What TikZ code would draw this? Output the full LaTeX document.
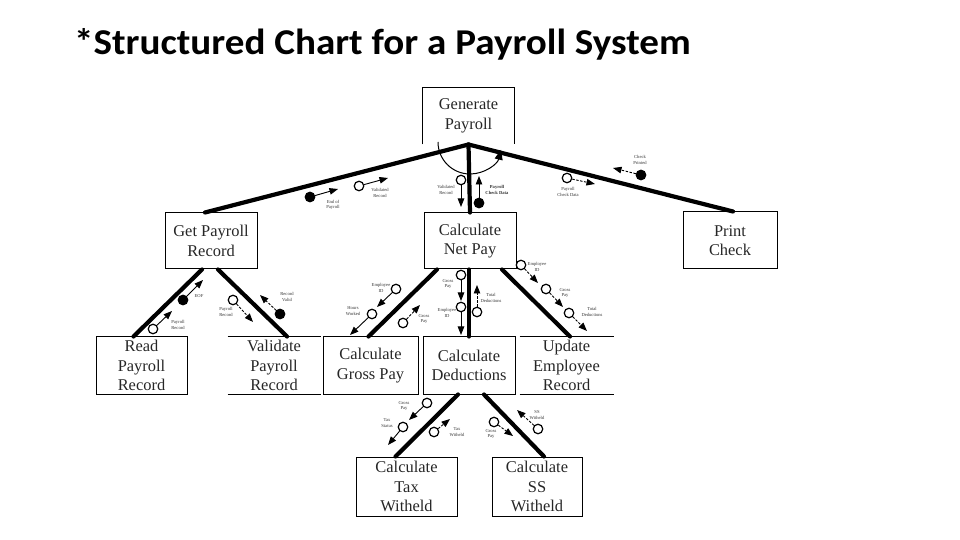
\documentclass[tikz,border=0pt]{standalone}
\usepackage{fontspec}
\setmainfont{Liberation Serif}
\newfontfamily\titlefont{Carlito}
\usetikzlibrary{arrows.meta}

\tikzset{
  module/.style={draw, line width=1bp, align=center, inner sep=0pt,
    text=black!85, font=\fontsize{16.5}{19.5}\selectfont},
  openmod/.style={module, draw=none},
  bus/.style={line width=4.2bp, line cap=round},
  datum/.style={circle, draw, line width=1.2bp, fill=white, minimum size=9.5bp, inner sep=0pt},
  flag/.style={datum, fill=black},
  couple/.style={line width=0.9bp, -{Triangle[length=8.5bp,width=6.5bp]}},
  dcouple/.style={couple, dash pattern=on 2.5bp off 1.5bp},
  tag/.style={align=center, inner sep=0pt, text=black!80,
    font=\fontsize{4.6}{5.2}\selectfont}
}

\begin{document}
\begin{tikzpicture}[x=1bp, y=-1bp]
\useasboundingbox (0,0) rectangle (960,540);

% Title
\node[anchor=base west, inner sep=0pt, font=\titlefont\bfseries\fontsize{36.5}{40}\selectfont] (title) at (74,55)
  {\scalebox{1.075}[1]{*Structured Chart for a Payroll System}};

% Modules
\node[openmod, minimum width=91bp, minimum height=56bp] (gen) at (468.5,116) {Generate\\Payroll};
\node[module, minimum width=92bp, minimum height=56bp] (get) at (211,241) {Get Payroll\\Record};
\node[module, minimum width=92bp, minimum height=56bp] (net) at (470,241) {Calculate\\Net Pay};
\node[module, minimum width=94bp, minimum height=57bp] (print) at (730,240.5) {Print\\Check};
\node[module, minimum width=91bp, minimum height=57bp] (read) at (141.5,365.5) {Read\\Payroll\\Record};
\node[openmod, minimum width=92bp, minimum height=57bp] (valid) at (274,365.5) {Validate\\Payroll\\Record};
\node[module, minimum width=95bp, minimum height=57bp] (gross) at (370.5,365.5) {Calculate\\Gross Pay};
\node[module, minimum width=92bp, minimum height=57bp] (deduct) at (469,365.5) {Calculate\\Deductions};
\node[openmod, minimum width=93bp, minimum height=57bp] (update) at (566.5,365.5) {Update\\Employee\\Record};
\node[module, minimum width=101bp, minimum height=59bp] (tax) at (406.5,486.5) {Calculate\\Tax\\Witheld};
\node[module, minimum width=90bp, minimum height=59bp] (ss) at (537,486.5) {Calculate\\SS\\Witheld};

% Partly open borders
\draw[line width=1bp] (gen.south west) -- (gen.north west) -- (gen.north east) -- (gen.south east);
\draw[line width=1bp] (valid.north west) -- (valid.north east) (valid.south west) -- (valid.south east);
\draw[line width=1bp] (update.north west) -- (update.north east) (update.south west) -- (update.south east);

% Calls
\draw[bus] (gen.south) -- ([xshift=-6bp]get.north);
\draw[bus] (gen.south) -- (net.north);
\draw[bus] (gen.south) -- ([xshift=3bp]print.north);
\draw[bus] ([xshift=-9bp]get.south) -- ([xshift=-8bp]read.north);
\draw[bus] ([xshift=7bp]get.south) -- ([xshift=13bp]valid.north);
\draw[bus] ([xshift=-33bp]net.south) -- ([xshift=-2bp]gross.north);
\draw[bus] ([xshift=-1bp]net.south) -- (deduct.north);
\draw[bus] ([xshift=32bp]net.south) -- ([xshift=3.5bp]update.north);
\draw[bus] ([xshift=-11bp]deduct.south) -- ([xshift=-11bp]tax.north);
\draw[bus] ([xshift=15bp]deduct.south) -- ([xshift=7bp]ss.north);

% Loop arc under Generate Payroll
\coordinate (loop) at (438,142);
\draw[line width=1bp, -{Triangle[length=10bp,width=8bp]}] (loop) arc[start angle=180, end angle=14, radius=32];

% Couples: Generate Payroll / Get Payroll Record
\node[flag] (endpay) at (310,197) {}; \coordinate (endpay-t) at (338,189);
\draw[couple] (endpay) -- (endpay-t);
\node[tag] (endpay-l) at (333,205) {End of\\Payroll};
\node[datum] (valrec) at (359,186) {}; \coordinate (valrec-t) at (388,178);
\draw[couple] (valrec) -- (valrec-t);
\node[tag] (valrec-l) at (380,193) {Validated\\Record};

% Couples: Generate Payroll / Calculate Net Pay
\node[datum] (valrec2) at (461,180) {}; \coordinate (valrec2-t) at (461,207);
\draw[couple] (valrec2) -- (valrec2-t);
\node[tag] (valrec2-l) at (446,190) {Validated\\Record};
\node[flag] (chkdata) at (479,203) {}; \coordinate (chkdata-t) at (479,176);
\draw[couple] (chkdata) -- (chkdata-t);
\node[tag, font=\fontsize{4.6}{5.2}\selectfont\bfseries] (chkdata-l) at (497,190) {Payroll\\Check Data};

% Couples: Generate Payroll / Print Check
\node[datum] (chkdata2) at (567,178) {}; \coordinate (chkdata2-t) at (595,184);
\draw[dcouple] (chkdata2) -- (chkdata2-t);
\node[tag] (chkdata2-l) at (568,192) {Payroll\\Check Data};
\node[flag] (printed) at (641,175) {}; \coordinate (printed-t) at (613,168);
\draw[dcouple] (printed) -- (printed-t);
\node[tag] (printed-l) at (640,160) {Check\\Printed};

% Couples: Get Payroll Record
\node[datum] (payrec) at (153,329) {}; \coordinate (payrec-t) at (172,311);
\draw[couple] (payrec) -- (payrec-t);
\node[tag] (payrec-l) at (178,325) {Payroll\\Record};
\node[flag] (eof) at (183,300) {}; \coordinate (eof-t) at (203,280);
\draw[couple] (eof) -- (eof-t);
\node[tag] (eof-l) at (199,296) {EOF};
\node[datum] (payrec2) at (233,300) {}; \coordinate (payrec2-t) at (253,322);
\draw[dcouple] (payrec2) -- (payrec2-t);
\node[tag] (payrec2-l) at (226,312) {Payroll\\Record};
\node[flag] (recvalid) at (280,314) {}; \coordinate (recvalid-t) at (260,295);
\draw[dcouple] (recvalid) -- (recvalid-t);
\node[tag] (recvalid-l) at (287,297) {Record\\Valid};

% Couples: Calculate Net Pay / Calculate Gross Pay
\node[datum] (empid) at (396,289) {}; \coordinate (empid-t) at (377,307);
\draw[couple] (empid) -- (empid-t);
\node[tag] (empid-l) at (381,288) {Employee\\ID};
\node[datum] (hours) at (372,314) {}; \coordinate (hours-t) at (350,335);
\draw[couple] (hours) -- (hours-t);
\node[tag] (hours-l) at (353,311) {Hours\\Worked};
\node[datum] (grosspay) at (403,323) {}; \coordinate (grosspay-t) at (420,305);
\draw[dcouple] (grosspay) -- (grosspay-t);
\node[tag] (grosspay-l) at (424,319) {Gross\\Pay};

% Couples: Calculate Net Pay / Calculate Deductions
\node[datum] (grosspay2) at (461,275) {}; \coordinate (grosspay2-t) at (461,301);
\draw[couple] (grosspay2) -- (grosspay2-t);
\node[tag] (grosspay2-l) at (448,284) {Gross\\Pay};
\node[datum] (empid2) at (461,307) {}; \coordinate (empid2-t) at (461,335);
\draw[couple] (empid2) -- (empid2-t);
\node[tag] (empid2-l) at (447,313) {Employee\\ID};
\node[datum] (totded) at (477,312) {}; \coordinate (totded-t) at (477,285);
\draw[dcouple] (totded) -- (totded-t);
\node[tag] (totded-l) at (491,298) {Total\\Deductions};

% Couples: Calculate Net Pay / Update Employee Record
\node[datum] (empid3) at (521,265) {}; \coordinate (empid3-t) at (538,283);
\draw[dcouple] (empid3) -- (empid3-t);
\node[tag] (empid3-l) at (537,267) {Employee\\ID};
\node[datum] (grosspay3) at (546,289) {}; \coordinate (grosspay3-t) at (563,307);
\draw[dcouple] (grosspay3) -- (grosspay3-t);
\node[tag] (grosspay3-l) at (565,293) {Gross\\Pay};
\node[datum] (totded2) at (569,313) {}; \coordinate (totded2-t) at (587,331);
\draw[dcouple] (totded2) -- (totded2-t);
\node[tag] (totded2-l) at (592,312) {Total\\Deductions};

% Couples: Calculate Deductions / Calculate Tax Witheld
\node[datum] (grosspay4) at (427,403) {}; \coordinate (grosspay4-t) at (409,420);
\draw[couple] (grosspay4) -- (grosspay4-t);
\node[tag] (grosspay4-l) at (404,406) {Gross\\Pay};
\node[datum] (taxstat) at (403,427) {}; \coordinate (taxstat-t) at (388,445);
\draw[couple] (taxstat) -- (taxstat-t);
\node[tag] (taxstat-l) at (387,423) {Tax\\Status};
\node[datum] (taxwith) at (434,432) {}; \coordinate (taxwith-t) at (450,419);
\draw[dcouple] (taxwith) -- (taxwith-t);
\node[tag] (taxwith-l) at (457,432) {Tax\\Witheld};

% Couples: Calculate Deductions / Calculate SS Witheld
\node[datum] (grosspay5) at (494,422) {}; \coordinate (grosspay5-t) at (513,436);
\draw[dcouple] (grosspay5) -- (grosspay5-t);
\node[tag] (grosspay5-l) at (491,434) {Gross\\Pay};
\node[datum] (sswith) at (538,429) {}; \coordinate (sswith-t) at (517,410);
\draw[dcouple] (sswith) -- (sswith-t);
\node[tag] (sswith-l) at (537,415) {SS\\Witheld};
\end{tikzpicture}
\end{document}
